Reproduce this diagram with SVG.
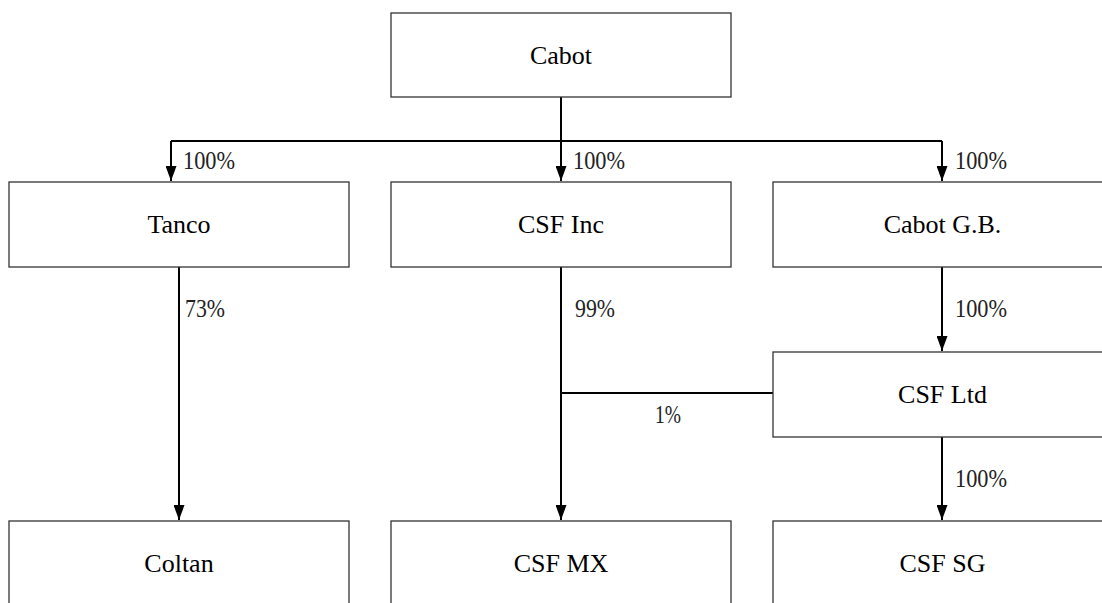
<svg xmlns="http://www.w3.org/2000/svg" width="1102" height="603" viewBox="0 0 1102 603">
<style>
.box{fill:#fff;stroke:#333;stroke-width:1.3}
.lbl{font-family:"Liberation Serif","Times New Roman",serif;font-size:26px;fill:#000;text-anchor:middle}
.pct{font-family:"Liberation Serif","Times New Roman",serif;font-size:25px;fill:#222}
.ln{fill:none;stroke:#000;stroke-width:2}
</style>
<defs>
<marker id="ah" viewBox="0 0 15 11" refX="15" refY="5.5" markerWidth="15" markerHeight="11" markerUnits="userSpaceOnUse" orient="auto">
<path d="M0,0 L15,5.5 L0,11 Z" fill="#000"/>
</marker>
</defs>
<rect width="1102" height="603" fill="#fff"/>
<g id="connectors">
<path class="ln" d="M561,97 V141"/>
<path class="ln" d="M171,141 H942"/>
<path class="ln" d="M171,141 V181" marker-end="url(#ah)"/>
<path class="ln" d="M561,141 V181" marker-end="url(#ah)"/>
<path class="ln" d="M942,141 V181" marker-end="url(#ah)"/>
<path class="ln" d="M179,267 V520" marker-end="url(#ah)"/>
<path class="ln" d="M561,267 V520" marker-end="url(#ah)"/>
<path class="ln" d="M561,393 H773"/>
<path class="ln" d="M942,267 V351" marker-end="url(#ah)"/>
<path class="ln" d="M942,437 V520" marker-end="url(#ah)"/>
<text class="pct" x="183" y="169" textLength="52" lengthAdjust="spacingAndGlyphs">100%</text>
<text class="pct" x="573" y="169" textLength="52" lengthAdjust="spacingAndGlyphs">100%</text>
<text class="pct" x="955" y="169" textLength="52" lengthAdjust="spacingAndGlyphs">100%</text>
<text class="pct" x="185" y="317" textLength="40" lengthAdjust="spacingAndGlyphs">73%</text>
<text class="pct" x="575" y="317" textLength="40" lengthAdjust="spacingAndGlyphs">99%</text>
<text class="pct" x="955" y="317" textLength="52" lengthAdjust="spacingAndGlyphs">100%</text>
<text class="pct" x="655" y="423" textLength="26" lengthAdjust="spacingAndGlyphs">1%</text>
<text class="pct" x="955" y="487" textLength="52" lengthAdjust="spacingAndGlyphs">100%</text>
</g>
<g id="cabot"><rect class="box" x="391" y="13" width="340" height="84"/><text class="lbl" x="561" y="64">Cabot</text></g>
<g id="tanco"><rect class="box" x="9" y="182" width="340" height="85"/><text class="lbl" x="179" y="233">Tanco</text></g>
<g id="csf-inc"><rect class="box" x="391" y="182" width="340" height="85"/><text class="lbl" x="561" y="233">CSF Inc</text></g>
<g id="cabot-gb"><rect class="box" x="773" y="182" width="340" height="85"/><text class="lbl" x="942.5" y="233">Cabot G.B.</text></g>
<g id="csf-ltd"><rect class="box" x="773" y="352" width="340" height="85"/><text class="lbl" x="942.5" y="403">CSF Ltd</text></g>
<g id="coltan"><rect class="box" x="9" y="521" width="340" height="85"/><text class="lbl" x="179" y="572">Coltan</text></g>
<g id="csf-mx"><rect class="box" x="391" y="521" width="340" height="85"/><text class="lbl" x="561" y="572">CSF MX</text></g>
<g id="csf-sg"><rect class="box" x="773" y="521" width="340" height="85"/><text class="lbl" x="942.5" y="572">CSF SG</text></g>
</svg>
